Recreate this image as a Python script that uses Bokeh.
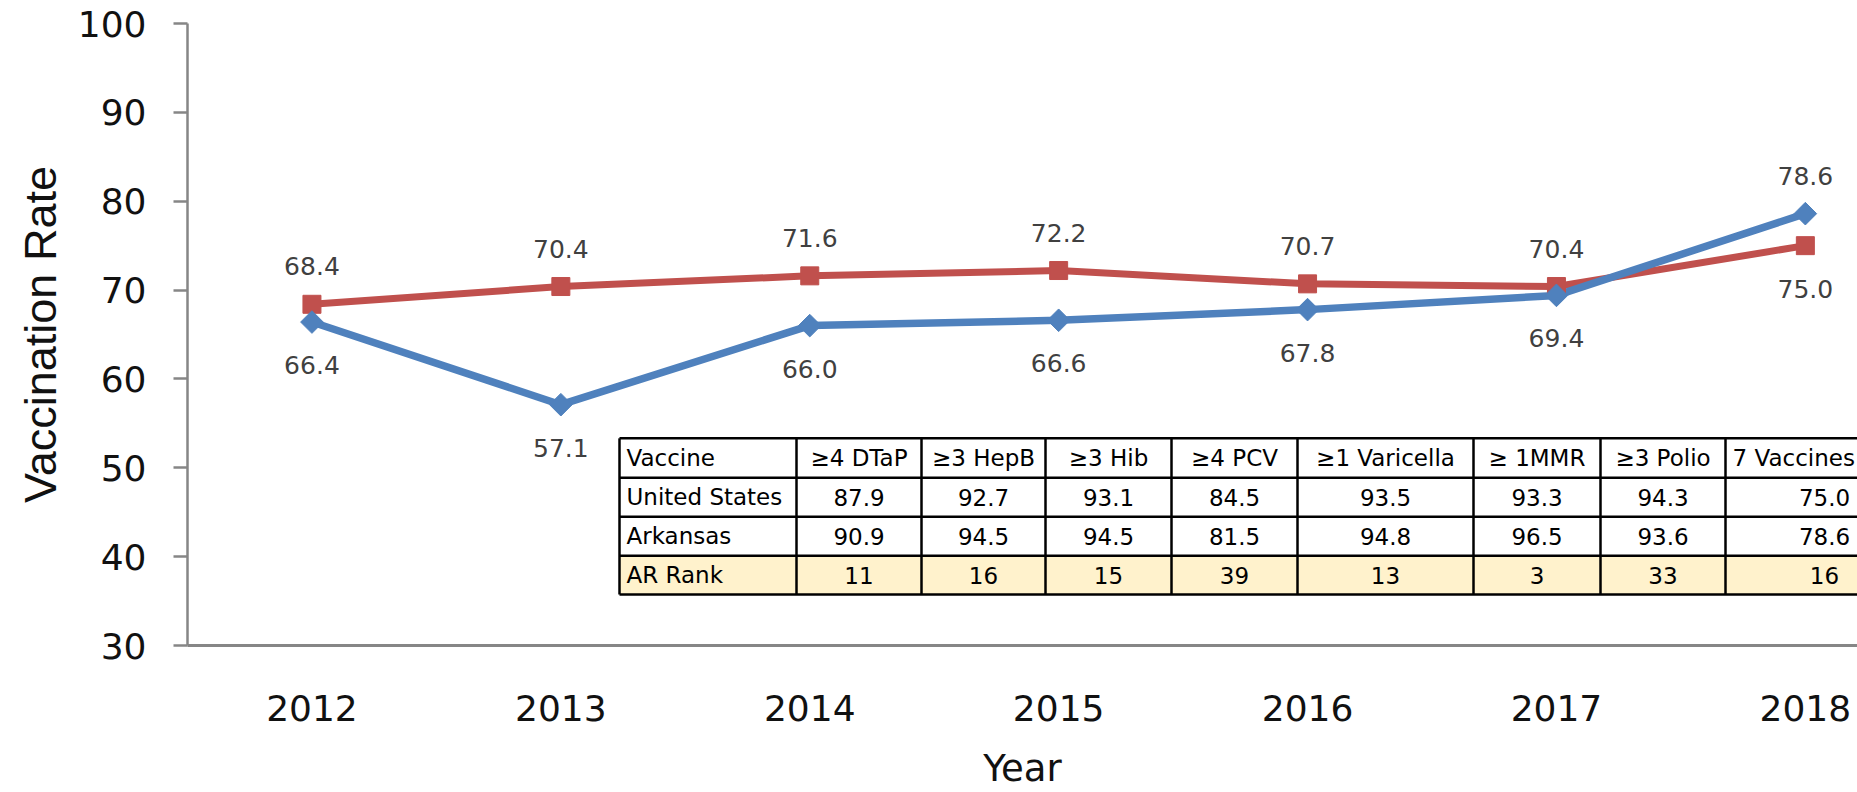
from bokeh.plotting import figure
from bokeh.models import Range1d, FixedTicker, ColumnDataSource
from bokeh.core.properties import value
from bokeh.embed import file_html
from bokeh.resources import INLINE

# ---------------- data ----------------
years = [2012, 2013, 2014, 2015, 2016, 2017, 2018]
arkansas = [66.4, 57.1, 66.0, 66.6, 67.8, 69.4, 78.6]
united_states = [68.4, 70.4, 71.6, 72.2, 70.7, 70.4, 75.0]
y_ticks = [30, 40, 50, 60, 70, 80, 90, 100]

table_header = ["Vaccine", "≥4 DTaP", "≥3 HepB", "≥3 Hib", "≥4 PCV",
                "≥1 Varicella", "≥ 1MMR", "≥3 Polio", "7 Vaccines"]
row_names = ["United States", "Arkansas", "AR Rank"]
us_rates = [87.9, 92.7, 93.1, 84.5, 93.5, 93.3, 94.3, 75.0]
ar_rates = [90.9, 94.5, 94.5, 81.5, 94.8, 96.5, 93.6, 78.6]
ar_rank = [11, 16, 15, 39, 13, 3, 33, 16]

# ---------------- layout (screen px) ----------------
W, H = 1857, 792
FRAME_LEFT, FRAME_TOP = 187, 23
FRAME_W, FRAME_H = W - FRAME_LEFT, 623
PX_PER_YEAR = 248.9
X0 = years[0] - 0.5
X1 = X0 + FRAME_W / PX_PER_YEAR
Y0, Y1 = 30, 100

COL_EDGES = [619, 796, 921, 1045, 1171, 1297, 1473, 1600, 1725, 1960]
ROW_EDGES = [438.5, 478, 517, 556, 595]
LAST_COL_CENTER = 1824


def dx(px):
    return X0 + (px - FRAME_LEFT) / PX_PER_YEAR


def dy(py):
    return Y1 - (py - FRAME_TOP) * (Y1 - Y0) / FRAME_H


BLUE = "#4F81BD"
RED = "#C0504D"
AXIS_GRAY = "#868686"
TEXT = "#111111"

p = figure(width=W, height=H, output_backend="svg", toolbar_location=None,
           x_range=Range1d(X0, X1), y_range=Range1d(Y0, Y1),
           min_border_left=FRAME_LEFT, min_border_right=0,
           min_border_top=FRAME_TOP, min_border_bottom=H - FRAME_TOP - FRAME_H)
p.outline_line_color = None
p.xgrid.visible = False
p.ygrid.visible = False
p.background_fill_color = "white"

# ---------------- series ----------------
p.line(years, united_states, line_color=RED, line_width=7)
p.line(years, arkansas, line_color=BLUE, line_width=7.5)
p.scatter(years, united_states, marker="square", size=18,
          fill_color=RED, line_color=RED)
p.scatter(years, arkansas, marker="square", size=16, angle=0.785398,
          fill_color=BLUE, line_color=BLUE)

# data labels: higher series above, lower below
ABOVE, BELOW = -38, 43
ar_off = [ABOVE if a >= u else BELOW for a, u in zip(arkansas, united_states)]
us_off = [ABOVE if u > a else BELOW for a, u in zip(arkansas, united_states)]
lab = ColumnDataSource(dict(
    x=years + years,
    y=arkansas + united_states,
    t=[f"{v:.1f}" for v in arkansas + united_states],
    off=ar_off + us_off))
p.text(x="x", y="y", text="t", y_offset="off", source=lab,
       text_align="center", text_baseline="middle",
       text_font=value("DejaVu Sans"), text_font_size="25px",
       text_color="#404040")

# ---------------- table ----------------
xl = [dx(c) for c in COL_EDGES[:-1]]
xr = [dx(c) for c in COL_EDGES[1:]]
nrows = len(ROW_EDGES) - 1
fills = ["white", "white", "white", "#FFF2CC"]
for r in range(nrows):
    p.quad(left=xl, right=xr, top=[dy(ROW_EDGES[r])] * len(xl),
           bottom=[dy(ROW_EDGES[r + 1])] * len(xl),
           fill_color=fills[r], line_color=None)

vx = [dx(c) for c in COL_EDGES[:-1]]
p.segment(x0=vx, y0=[dy(ROW_EDGES[0])] * len(vx),
          x1=vx, y1=[dy(ROW_EDGES[-1])] * len(vx),
          line_color="black", line_width=2.5)
p.segment(x0=[dx(COL_EDGES[0])] * len(ROW_EDGES), y0=[dy(r) for r in ROW_EDGES],
          x1=[dx(COL_EDGES[-1])] * len(ROW_EDGES), y1=[dy(r) for r in ROW_EDGES],
          line_color="black", line_width=2.5)

rows = [table_header,
        [row_names[0]] + [f"{v:.1f}" for v in us_rates],
        [row_names[1]] + [f"{v:.1f}" for v in ar_rates],
        [row_names[2]] + [str(v) for v in ar_rank]]
tx, ty, tt, ta = [], [], [], []
ncols = len(table_header)
for r, row in enumerate(rows):
    yc = dy((ROW_EDGES[r] + ROW_EDGES[r + 1]) / 2)
    for c, txt in enumerate(row):
        left, right = COL_EDGES[c], COL_EDGES[c + 1]
        if c == 0 or (c == ncols - 1 and r == 0):
            tx.append(dx(left + 7)); ta.append("left")
        elif c == ncols - 1:
            tx.append(dx(LAST_COL_CENTER)); ta.append("center")
        else:
            tx.append(dx((left + right) / 2)); ta.append("center")
        ty.append(yc)
        tt.append(txt)
tsrc = ColumnDataSource(dict(x=tx, y=ty, t=tt, a=ta))
p.text(x="x", y="y", text="t", text_align="a", source=tsrc,
       text_baseline="middle", text_font=value("DejaVu Sans"),
       text_font_size="23px", text_color="black")

# ---------------- axes ----------------
p.yaxis.ticker = FixedTicker(ticks=y_ticks)
p.yaxis.major_tick_out = 14
p.yaxis.major_tick_in = 0
p.yaxis.minor_tick_out = 0
p.yaxis.minor_tick_in = 0
p.yaxis.axis_line_color = AXIS_GRAY
p.yaxis.axis_line_width = 2.5
p.yaxis.major_tick_line_color = AXIS_GRAY
p.yaxis.major_tick_line_width = 2.5
p.yaxis.major_label_text_font = "DejaVu Sans"
p.yaxis.major_label_text_font_size = "36px"
p.yaxis.major_label_text_color = TEXT
p.yaxis.major_label_standoff = 27
p.yaxis.axis_label = "Vaccination Rate"
p.yaxis.axis_label_text_font = "Liberation Sans"
p.yaxis.axis_label_text_font_size = "45px"
p.yaxis.axis_label_text_font_style = "normal"
p.yaxis.axis_label_text_color = TEXT
p.yaxis.axis_label_standoff = 9

p.xaxis.ticker = FixedTicker(ticks=years)
p.xaxis.major_label_overrides = {y: str(y) for y in years}
p.xaxis.major_tick_out = 0
p.xaxis.major_tick_in = 0
p.xaxis.minor_tick_out = 0
p.xaxis.minor_tick_in = 0
p.xaxis.axis_line_color = AXIS_GRAY
p.xaxis.axis_line_width = 3
p.xaxis.major_label_text_font = "DejaVu Sans"
p.xaxis.major_label_text_font_size = "36px"
p.xaxis.major_label_text_color = TEXT
p.xaxis.major_label_standoff = 49
p.xaxis.axis_label = "Year"
p.xaxis.axis_label_text_font = "DejaVu Sans"
p.xaxis.axis_label_text_font_size = "37px"
p.xaxis.axis_label_text_font_style = "normal"
p.xaxis.axis_label_text_color = TEXT
p.xaxis.axis_label_standoff = 23

open("out.html", "w").write(file_html(p, INLINE))
